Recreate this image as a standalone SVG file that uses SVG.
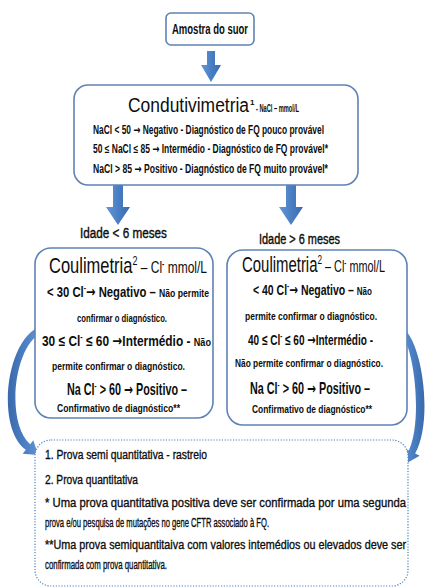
<svg xmlns="http://www.w3.org/2000/svg" width="425" height="588" viewBox="0 0 425 588">
<defs>
<linearGradient id="ag" x1="0" y1="0" x2="1" y2="0">
<stop offset="0" stop-color="#6797d8"/><stop offset="0.5" stop-color="#4a7fc4"/><stop offset="1" stop-color="#3a69ad"/>
</linearGradient>
<linearGradient id="cg" x1="0" y1="0" x2="1" y2="0">
<stop offset="0" stop-color="#3a69ad"/><stop offset="0.6" stop-color="#4f84c8"/><stop offset="1" stop-color="#6a9ad8"/>
</linearGradient>
<linearGradient id="cg2" x1="1" y1="0" x2="0" y2="0">
<stop offset="0" stop-color="#3a69ad"/><stop offset="0.6" stop-color="#4f84c8"/><stop offset="1" stop-color="#6a9ad8"/>
</linearGradient>
<style>
text{font-family:"Liberation Sans",Arial,sans-serif;fill:#0d0d0d}
.box{fill:#fff;stroke:#5f82b6;stroke-width:1.6}
.arr{fill:url(#ag)}
.big{font-size:22px}
.hd{font-size:16px}
.mid{font-size:15px;font-weight:bold}
.mid2{font-size:16px;font-weight:bold}
.sm{font-size:11.5px;font-weight:bold}
.sup{font-size:9px;font-weight:bold}
.ar{font-family:"DejaVu Sans",sans-serif;font-weight:bold}
.b{font-weight:bold}
.note{font-size:13.5px;stroke:#0d0d0d;stroke-width:0.35}
.lbl{font-size:15px;stroke:#0d0d0d;stroke-width:0.4}
</style>
</defs>
<rect width="425" height="588" fill="#fff"/>

<g id="connectors">
<polygon class="arr" points="207,51 215,51 215,65 221,65 211,82 201,65 207,65"/>
<polygon class="arr" points="113,184 123,184 123,207 130,207 118,225 106,207 113,207"/>
<polygon class="arr" points="286,184 296,184 296,207 303,207 291,225 279,207 286,207"/>
<path fill="url(#cg)" d="M 42 326 C 6 336, -5 428, 25.8 449.8 L 22.7 453.7 L 38.2 455 L 33.3 440.3 L 30.2 444.2 C 5 422, 14 344, 42 333 Z"/>
<path fill="url(#cg2)" d="M 400 326 C 422 336, 434 420, 415.1 453.6 L 419.6 455.8 L 406.2 463.6 L 404.4 448.2 L 408.9 450.4 C 423 420, 414 344, 400 333 Z"/>
<text transform="translate(80,238) scale(0.78,1)" class="lbl" textLength="111.5" lengthAdjust="spacingAndGlyphs">Idade &lt; 6 meses</text>
<text transform="translate(259,244) scale(0.72,1)" class="lbl" textLength="112.5" lengthAdjust="spacingAndGlyphs">Idade &gt; 6 meses</text>
</g>

<g id="amostra">
<rect class="box" x="166" y="13" width="88" height="32" rx="5" stroke="#7f9cc6"/>
<text transform="translate(172,34) scale(0.68,1)" font-size="14" class="b" textLength="111.8" lengthAdjust="spacingAndGlyphs">Amostra do suor</text>
</g>

<g id="condutivimetria">
<rect class="box" x="74" y="85" width="284" height="100" rx="14"/>
<text transform="translate(128,112) scale(0.83,1)" font-size="21" textLength="145.8" lengthAdjust="spacingAndGlyphs">Condutivimetria</text>
<text x="250" y="105" font-size="8" class="b">1</text>
<text transform="translate(256,112) scale(0.57,1)" font-size="11" class="b" textLength="75.4" lengthAdjust="spacingAndGlyphs">- NaCl – mmol/L</text>
<text transform="translate(93,134) scale(0.65,1)" font-size="12" class="b" textLength="355.4" lengthAdjust="spacingAndGlyphs">NaCl &lt; 50 <tspan class="ar">→</tspan> Negativo - Diagnóstico  de FQ pouco provável</text>
<text transform="translate(93,153) scale(0.65,1)" font-size="12" class="b" textLength="361.5" lengthAdjust="spacingAndGlyphs">50 ≤ NaCl ≤ 85 <tspan class="ar">→</tspan> Intermédio - Diagnóstico  de FQ provável*</text>
<text transform="translate(93,173) scale(0.65,1)" font-size="12" class="b" textLength="361.5" lengthAdjust="spacingAndGlyphs">NaCl &gt; 85 <tspan class="ar">→</tspan> Positivo - Diagnóstico  de FQ muito provável*</text>
</g>

<g id="coulimetria-menor-6">
<rect class="box" x="35" y="248" width="178" height="170" rx="16"/>
<text transform="translate(49,273) scale(0.75,1)" textLength="210.7" lengthAdjust="spacingAndGlyphs"><tspan class="big">Coulimetria</tspan><tspan font-size="12" dy="-8">2</tspan><tspan class="hd" dy="8"> – Cl</tspan><tspan class="sup" dy="-6">-</tspan><tspan class="hd" dy="6"> mmol/L</tspan></text>
<text transform="translate(47,297) scale(0.75,1)" textLength="216" lengthAdjust="spacingAndGlyphs"><tspan class="mid">&lt; 30 Cl</tspan><tspan class="sup" dy="-6">-</tspan><tspan class="mid ar" dy="6">→</tspan><tspan class="mid"> Negativo – </tspan><tspan class="sm">Não permite</tspan></text>
<text transform="translate(77,322) scale(0.58,1)" class="sm" textLength="155.2" lengthAdjust="spacingAndGlyphs">confirmar  o diagnóstico.</text>
<text transform="translate(42,346) scale(0.8,1)" textLength="211.25" lengthAdjust="spacingAndGlyphs"><tspan class="mid">30 ≤ Cl</tspan><tspan class="sup" dy="-6">-</tspan><tspan class="mid" dy="6"> ≤ 60 </tspan><tspan class="mid ar">→</tspan><tspan class="mid">Intermédio - </tspan><tspan class="sm">Não</tspan></text>
<text transform="translate(52,370) scale(0.67,1)" class="sm" textLength="198.5" lengthAdjust="spacingAndGlyphs">permite confirmar  o diagnóstico.</text>
<text transform="translate(67,395) scale(0.67,1)" textLength="179.1" lengthAdjust="spacingAndGlyphs"><tspan class="mid2">Na Cl</tspan><tspan class="sup" dy="-6">-</tspan><tspan class="mid2" dy="6"> &gt; 60 </tspan><tspan class="mid2 ar">→</tspan><tspan class="mid2"> Positivo –</tspan></text>
<text transform="translate(57,412) scale(0.69,1)" class="sm" textLength="178.3" lengthAdjust="spacingAndGlyphs">Confirmativo  de diagnóstico**</text>
</g>

<g id="coulimetria-maior-6">
<rect class="box" x="227" y="250" width="180" height="175" rx="16"/>
<text transform="translate(242,272) scale(0.68,1)" textLength="210.3" lengthAdjust="spacingAndGlyphs"><tspan class="big">Coulimetria</tspan><tspan font-size="12" dy="-8">2</tspan><tspan class="hd" dy="8"> – Cl</tspan><tspan class="sup" dy="-6">-</tspan><tspan class="hd" dy="6"> mmol/L</tspan></text>
<text transform="translate(253,295) scale(0.7,1)" textLength="170" lengthAdjust="spacingAndGlyphs"><tspan class="mid">&lt; 40 Cl</tspan><tspan class="sup" dy="-6">-</tspan><tspan class="mid ar" dy="6">→</tspan><tspan class="mid"> Negativo – </tspan><tspan class="sm">Não</tspan></text>
<text transform="translate(245,320) scale(0.67,1)" class="sm" textLength="197" lengthAdjust="spacingAndGlyphs">permite confirmar  o diagnóstico.</text>
<text transform="translate(248,345) scale(0.67,1)" textLength="186.6" lengthAdjust="spacingAndGlyphs"><tspan class="mid">40 ≤ Cl</tspan><tspan class="sup" dy="-6">-</tspan><tspan class="mid" dy="6"> ≤ 60 </tspan><tspan class="mid ar">→</tspan><tspan class="mid">Intermédio -</tspan></text>
<text transform="translate(235,367) scale(0.67,1)" class="sm" textLength="220.9" lengthAdjust="spacingAndGlyphs">Não permite confirmar  o diagnóstico.</text>
<text transform="translate(250,394) scale(0.67,1)" textLength="179.1" lengthAdjust="spacingAndGlyphs"><tspan class="mid2">Na Cl</tspan><tspan class="sup" dy="-6">-</tspan><tspan class="mid2" dy="6"> &gt; 60 </tspan><tspan class="mid2 ar">→</tspan><tspan class="mid2"> Positivo –</tspan></text>
<text transform="translate(252,413) scale(0.67,1)" class="sm" textLength="179.1" lengthAdjust="spacingAndGlyphs">Confirmativo de diagnóstico**</text>
</g>

<g id="notas">
<rect x="35" y="440" width="373" height="146" rx="16" fill="#fff" stroke="#4f7fc0" stroke-width="1.2" stroke-dasharray="1.2 1.6"/>
<text transform="translate(45,459) scale(0.69,1)" class="note" textLength="234.8" lengthAdjust="spacingAndGlyphs">1. Prova semi quantitativa - rastreio</text>
<text transform="translate(45,484) scale(0.65,1)" class="note" textLength="143.1" lengthAdjust="spacingAndGlyphs">2. Prova quantitativa</text>
<text transform="translate(45,507) scale(0.836,1)" class="note" textLength="431.8" lengthAdjust="spacingAndGlyphs">* Uma prova quantitativa positiva deve ser confirmada por uma segunda</text>
<text transform="translate(45,527) scale(0.58,1)" class="note" textLength="386.2" lengthAdjust="spacingAndGlyphs">prova e/ou pesquisa de mutações no gene CFTR associado à FQ.</text>
<text transform="translate(45,549) scale(0.79,1)" class="note" textLength="457" lengthAdjust="spacingAndGlyphs">**Uma prova semiquantitaiva com valores intemédios ou elevados deve ser</text>
<text transform="translate(45,569) scale(0.55,1)" class="note" textLength="221.8" lengthAdjust="spacingAndGlyphs">confirmada com prova quantitativa.</text>
</g>
</svg>
